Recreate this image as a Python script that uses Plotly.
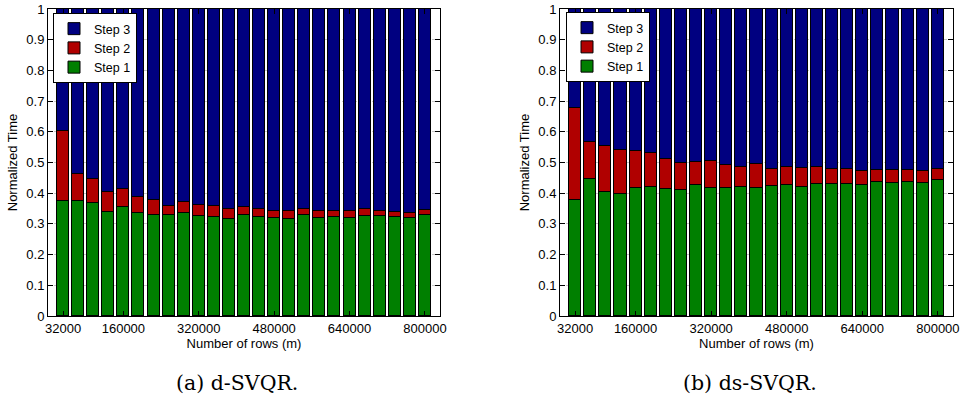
import plotly.graph_objects as go

rows = [32000 * (i + 1) for i in range(25)]
tick_vals = [32000, 160000, 320000, 480000, 640000, 800000]
tick_text = ["32000", "160000", "320000", "480000", "640000", "800000"]

# d-SVQR: cumulative tops
d_step1 = [0.373, 0.373, 0.368, 0.339, 0.354, 0.336, 0.329, 0.328, 0.334, 0.327,
           0.324, 0.317, 0.328, 0.322, 0.318, 0.316, 0.328, 0.320, 0.322, 0.318,
           0.327, 0.325, 0.323, 0.318, 0.329]
d_step12 = [0.603, 0.463, 0.446, 0.405, 0.413, 0.389, 0.377, 0.358, 0.371, 0.363,
            0.357, 0.348, 0.354, 0.350, 0.343, 0.341, 0.350, 0.341, 0.342, 0.341,
            0.347, 0.343, 0.339, 0.336, 0.345]

# ds-SVQR
ds_step1 = [0.377, 0.447, 0.403, 0.399, 0.416, 0.419, 0.415, 0.412, 0.426, 0.417,
            0.418, 0.419, 0.418, 0.425, 0.427, 0.419, 0.429, 0.429, 0.431, 0.428,
            0.436, 0.433, 0.436, 0.433, 0.442]
ds_step12 = [0.677, 0.566, 0.554, 0.542, 0.536, 0.531, 0.512, 0.498, 0.503, 0.505,
             0.491, 0.484, 0.495, 0.480, 0.484, 0.481, 0.486, 0.480, 0.478, 0.473,
             0.477, 0.476, 0.476, 0.471, 0.479]

series_names = ["Step 1", "Step 2", "Step 3"]
colors = ["#007F00", "#B00000", "#000080"]

FONT = "Liberation Sans, Arial, Helvetica, sans-serif"
SERIF = "DejaVu Serif, Liberation Serif, serif"
fig = go.Figure()


def add_panel(s1, s12, xaxis, yaxis, legend):
    step1 = s1
    step2 = [b - a for a, b in zip(s1, s12)]
    step3 = [1 - b for b in s12]
    for name, vals, col in zip(series_names, [step1, step2, step3], colors):
        fig.add_trace(go.Bar(
            x=rows, y=vals, name=name, xaxis=xaxis, yaxis=yaxis, legend=legend,
            width=25600, marker=dict(color=col, line=dict(color="black", width=1)),
            hoverinfo="skip",
        ))


add_panel(d_step1, d_step12, "x", "y", "legend")
add_panel(ds_step1, ds_step12, "x2", "y2", "legend2")

xcommon = dict(range=[0, 832000], tickvals=tick_vals, ticktext=tick_text,
               ticks="inside", ticklen=5, mirror="ticks", showline=True,
               linecolor="black", linewidth=1, tickcolor="black", automargin=False,
               showgrid=True, gridcolor="#c8c8c8", griddash="dot", gridwidth=1,
               zeroline=False, tickfont=dict(size=13, color="black", family=FONT),
               title=dict(text="Number of rows (m)", font=dict(size=13, color="black", family=FONT),
                          standoff=0))
ycommon = dict(range=[0, 1], tickvals=[i / 10 for i in range(11)],
               ticktext=["0", "0.1", "0.2", "0.3", "0.4", "0.5", "0.6", "0.7", "0.8", "0.9", "1"],
               ticks="inside", ticklen=5, mirror="ticks", showline=True,
               linecolor="black", linewidth=1, tickcolor="black", automargin=False,
               showgrid=True, gridcolor="#c8c8c8", griddash="dot", gridwidth=1,
               zeroline=False, tickfont=dict(size=13, color="black", family=FONT),
               title=dict(text="Normalized Time", font=dict(size=13, color="black", family=FONT),
                          standoff=5))

legcommon = dict(bgcolor="white", bordercolor="black", borderwidth=1,
                 traceorder="reversed", font=dict(size=12.5, color="black", family=FONT),
                 xanchor="left", yanchor="top", tracegroupgap=0, itemwidth=30)

fig.update_layout(
    width=961, height=396,
    margin=dict(l=0, r=0, t=0, b=0, autoexpand=False),
    paper_bgcolor="white", plot_bgcolor="white",
    barmode="stack", bargap=0,
    xaxis=dict(domain=[48 / 961, 440 / 961], anchor="y", **xcommon),
    yaxis=dict(domain=[80 / 396, 387 / 396], anchor="x", **ycommon),
    xaxis2=dict(domain=[560 / 961, 953 / 961], anchor="y2", **xcommon),
    yaxis2=dict(domain=[80 / 396, 387 / 396], anchor="x2", **ycommon),
    legend=dict(x=53 / 961, y=1 - 13 / 396, **legcommon),
    legend2=dict(x=566 / 961, y=1 - 12 / 396, **legcommon),
    showlegend=True,
    annotations=[
        dict(text="(a) d-SVQR.", x=237 / 961, y=1 - 383 / 396, xref="paper", yref="paper",
             xanchor="center", yanchor="middle",
             showarrow=False, font=dict(size=20.5, color="black", family=SERIF)),
        dict(text="(b) ds-SVQR.", x=750 / 961, y=1 - 383 / 396, xref="paper", yref="paper",
             xanchor="center", yanchor="middle",
             showarrow=False, font=dict(size=20.5, color="black", family=SERIF)),
    ],
)

fig.write_html("out.html", config={"displayModeBar": False},
               post_script="document.body.style.margin='0px';")
